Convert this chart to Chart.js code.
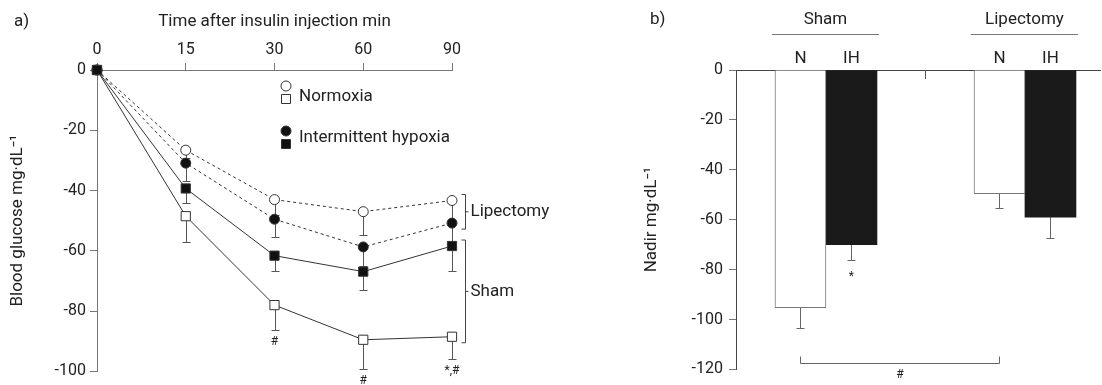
<!DOCTYPE html>
<html>
<head>
<meta charset="utf-8">
<script src="https://cdn.jsdelivr.net/npm/chart.js@4"></script>
<style>
  html, body { margin: 0; padding: 0; background: #fff; overflow: hidden; }
  #wrapA { position: absolute; left: 0; top: 0; width: 620px; height: 385px; }
  #wrapB { position: absolute; left: 620px; top: 0; width: 482px; height: 385px; }
</style>
</head>
<body>
<div id="wrapA"><canvas id="chartA"></canvas></div>
<div id="wrapB"><canvas id="chartB"></canvas></div>
<script>
// ---- panel a data ----
const timeLabels = ['0', '15', '30', '60', '90'];
const shamIH = [0, -39.3, -61.6, -66.9, -58.4];
const shamIHErr = [0, 4.7, 5, 6.1, 8.2];
const shamN = [0, -48.5, -78, -89.5, -88.5];
const shamNErr = [0, 8.5, 8.2, 9.8, 7.5];
const lipIH = [0, -30.9, -49.5, -58.7, -50.8];
const lipIHErr = [0, 5.8, 5.9, 6.3, 7.2];
const lipN = [0, -26.6, -43, -47, -43.3];
const lipNErr = [0, 2.5, 5, 7.7, 6.7];
const shamNSig = ['', '', '#', '#', '*,#'];
const yTicksA = [0, -20, -40, -60, -80, -100];

// ---- panel b data ----
const groups = ['Sham', 'Lipectomy'];
const nadirN = [-95.3, -49.6];
const nadirNErr = [8.2, 5.9];
const nadirIH = [-70, -59];
const nadirIHErr = [6.2, 8.3];
const nadirIHSig = ['*', ''];
const yTicksB = [0, -20, -40, -60, -80, -100, -120];

const FONT = 'Roboto, "Liberation Sans", sans-serif';
Chart.defaults.font.family = FONT;
Chart.defaults.font.size = 16;
Chart.defaults.color = '#222';
Chart.defaults.animation = false;

const AXIS = '#777';
const LINE = '#333';
const TEXT = '17px ' + FONT;

function lineSet(label, data, err, dashed, style, filled, radius, order) {
  return {
    label, data, err, order,
    borderColor: LINE, borderWidth: 1, borderDash: dashed ? [3, 3] : [],
    pointStyle: style, pointRadius: radius,
    pointBackgroundColor: filled ? '#111' : '#fff',
    pointBorderColor: LINE, pointBorderWidth: 1,
    tension: 0, fill: false, clip: false
  };
}

const errorBarsA = {
  id: 'errorBarsA',
  beforeDatasetsDraw(chart) {
    const { ctx, scales: { x, y } } = chart;
    ctx.save();
    ctx.strokeStyle = '#555';
    ctx.lineWidth = 1;
    chart.data.datasets.forEach(ds => {
      ds.data.forEach((v, i) => {
        if (!ds.err[i]) return;
        const px = Math.round(x.getPixelForValue(i)) + 0.5;
        const y0 = y.getPixelForValue(v);
        const y1 = Math.round(y.getPixelForValue(v - ds.err[i])) + 0.5;
        ctx.beginPath();
        ctx.moveTo(px, y0); ctx.lineTo(px, y1);
        ctx.moveTo(px - 4, y1); ctx.lineTo(px + 4, y1);
        ctx.stroke();
      });
    });
    ctx.restore();
  }
};

function marker(ctx, kind, cx, cy, filled) {
  ctx.beginPath();
  if (kind === 'circle') ctx.arc(cx, cy, 5, 0, Math.PI * 2);
  else ctx.rect(cx - 4.5, cy - 4.5, 9, 9);
  ctx.fillStyle = filled ? '#111' : '#fff';
  ctx.fill();
  ctx.strokeStyle = LINE;
  ctx.lineWidth = 1;
  ctx.stroke();
}

function bracket(ctx, x, top, bottom) {
  const mid = (top + bottom) / 2;
  ctx.beginPath();
  ctx.moveTo(x - 4, top); ctx.lineTo(x, top); ctx.lineTo(x, bottom); ctx.lineTo(x - 4, bottom);
  ctx.moveTo(x, mid); ctx.lineTo(x + 3, mid);
  ctx.stroke();
}

const extrasA = {
  id: 'extrasA',
  afterDraw(chart) {
    const { ctx, scales: { x, y } } = chart;
    ctx.save();
    ctx.fillStyle = '#222';
    ctx.font = TEXT;
    ctx.textBaseline = 'middle';
    ctx.textAlign = 'left';
    ctx.fillText('a)', 14, 22);

    // legend
    marker(ctx, 'circle', 286, 86, false);
    marker(ctx, 'square', 286, 99, false);
    ctx.fillStyle = '#222';
    ctx.fillText('Normoxia', 299, 97);
    marker(ctx, 'circle', 286, 131, true);
    marker(ctx, 'square', 286, 144, true);
    ctx.fillStyle = '#222';
    ctx.fillText('Intermittent hypoxia', 299, 138);

    // group brackets at last time point
    const last = timeLabels.length - 1;
    const bx = Math.round(x.getPixelForValue(last)) + 13.5;
    ctx.strokeStyle = '#444';
    ctx.lineWidth = 1;
    const lTop = y.getPixelForValue(Math.max(lipN[last], lipIH[last])) - 6;
    const lBot = y.getPixelForValue(Math.min(lipN[last], lipIH[last])) + 6;
    bracket(ctx, bx, lTop, lBot);
    ctx.fillText('Lipectomy', bx + 5, (lTop + lBot) / 2);
    const sTop = y.getPixelForValue(Math.max(shamN[last], shamIH[last])) - 6;
    const sBot = y.getPixelForValue(Math.min(shamN[last], shamIH[last])) + 6;
    bracket(ctx, bx, sTop, sBot);
    ctx.fillText('Sham', bx + 5, (sTop + sBot) / 2);

    // significance marks
    ctx.font = '12px ' + FONT;
    ctx.textAlign = 'center';
    shamNSig.forEach((s, i) => {
      if (!s) return;
      const py = y.getPixelForValue(shamN[i] - shamNErr[i]) + 12;
      ctx.fillText(s, x.getPixelForValue(i), py);
    });
    ctx.restore();
  }
};

new Chart(document.getElementById('chartA'), {
  type: 'line',
  data: {
    labels: timeLabels,
    datasets: [
      lineSet('Sham IH', shamIH, shamIHErr, false, 'rect', true, 6.5, 0),
      lineSet('Sham N', shamN, shamNErr, false, 'rect', false, 6.5, 1),
      lineSet('Lipectomy IH', lipIH, lipIHErr, true, 'circle', true, 5, 2),
      lineSet('Lipectomy N', lipN, lipNErr, true, 'circle', false, 5, 3)
    ]
  },
  options: {
    responsive: true,
    maintainAspectRatio: false,
    layout: { padding: { left: 0, top: 0, right: 168, bottom: 10 } },
    plugins: { legend: { display: false }, tooltip: { enabled: false } },
    scales: {
      x: {
        position: 'top',
        offset: false,
        afterFit(s) { s.height = 70; },
        grid: { drawOnChartArea: false, tickLength: 7, color: AXIS },
        border: { color: AXIS },
        ticks: { padding: 3, maxRotation: 0 },
        title: { display: true, text: 'Time after insulin injection min', font: { size: 17 }, padding: { top: 12, bottom: 0 } }
      },
      y: {
        min: -100, max: 0,
        afterFit(s) { s.width = 97; },
        afterBuildTicks(s) { s.ticks = yTicksA.map(v => ({ value: v })); },
        grid: { drawOnChartArea: false, tickLength: 7, color: AXIS },
        border: { color: AXIS },
        ticks: { padding: 4 },
        title: { display: true, text: 'Blood glucose mg·dL⁻¹', font: { size: 17 }, padding: { top: 8, bottom: 0 } }
      }
    }
  },
  plugins: [errorBarsA, extrasA]
});

// ---- panel b ----
const errorBarsB = {
  id: 'errorBarsB',
  beforeDatasetsDraw(chart) {
    const { ctx, scales: { y } } = chart;
    ctx.save();
    ctx.strokeStyle = '#666';
    ctx.lineWidth = 1;
    chart.data.datasets.forEach((ds, di) => {
      const meta = chart.getDatasetMeta(di);
      ds.data.forEach((pt, i) => {
        const px = Math.round(meta.data[i].x) + 0.5;
        const y0 = y.getPixelForValue(pt.y);
        const y1 = Math.round(y.getPixelForValue(pt.y - ds.err[i])) + 0.5;
        ctx.beginPath();
        ctx.moveTo(px, y0); ctx.lineTo(px, y1);
        ctx.moveTo(px - 4, y1); ctx.lineTo(px + 4, y1);
        ctx.stroke();
      });
    });
    ctx.restore();
  }
};

const extrasB = {
  id: 'extrasB',
  afterDraw(chart) {
    const { ctx, scales: { x, y } } = chart;
    const metaN = chart.getDatasetMeta(0), metaIH = chart.getDatasetMeta(1);
    ctx.save();
    ctx.fillStyle = '#222';
    ctx.font = TEXT;
    ctx.textBaseline = 'middle';
    ctx.textAlign = 'left';
    ctx.fillText('b)', 30, 20);

    ctx.textAlign = 'center';
    ctx.strokeStyle = '#777';
    ctx.lineWidth = 1;
    groups.forEach((g, i) => {
      const nb = metaN.data[i], ib = metaIH.data[i];
      const left = nb.x - nb.width / 2 - 3, right = ib.x + ib.width / 2 + 2;
      ctx.fillText(g, (left + right) / 2, 20);
      ctx.beginPath();
      ctx.moveTo(left, 34.5); ctx.lineTo(right, 34.5);
      ctx.stroke();
      ctx.fillText('N', nb.x, 59);
      ctx.fillText('IH', ib.x, 59);
    });

    // tick between groups
    const tx = Math.round(x.getPixelForValue(0.5)) + 0.5;
    const top = chart.chartArea.top;
    ctx.strokeStyle = '#555';
    ctx.beginPath();
    ctx.moveTo(tx, top); ctx.lineTo(tx, top + 9);
    ctx.stroke();

    // significance
    ctx.font = '12px ' + FONT;
    nadirIHSig.forEach((s, i) => {
      if (!s) return;
      const py = y.getPixelForValue(nadirIH[i] - nadirIHErr[i]) + 17;
      ctx.fillText(s, metaIH.data[i].x, py);
    });

    // sham N vs lipectomy N bracket
    const x0 = Math.round(metaN.data[0].x) + 0.5, x1 = Math.round(metaN.data[1].x) + 0.5;
    const by = Math.round(y.getPixelForValue(Math.min(...nadirN.map((v, i) => v - nadirNErr[i])) - 14)) + 0.5;
    ctx.strokeStyle = '#666';
    ctx.beginPath();
    ctx.moveTo(x0, by - 7); ctx.lineTo(x0, by); ctx.lineTo(x1, by); ctx.lineTo(x1, by - 7);
    ctx.stroke();
    ctx.fillText('#', (x0 + x1) / 2, by + 11);
    ctx.restore();
  }
};

new Chart(document.getElementById('chartB'), {
  type: 'bar',
  data: {
    datasets: [
      {
        label: 'N', err: nadirNErr,
        data: groups.map((g, i) => ({ x: i, y: nadirN[i] })),
        backgroundColor: '#fff', borderColor: '#777', borderWidth: 1,
        borderSkipped: 'start', barThickness: 51
      },
      {
        label: 'IH', err: nadirIHErr,
        data: groups.map((g, i) => ({ x: i, y: nadirIH[i] })),
        backgroundColor: '#1a1a1a', borderColor: '#1a1a1a', borderWidth: 0,
        barThickness: 51
      }
    ]
  },
  options: {
    responsive: true,
    maintainAspectRatio: false,
    layout: { padding: { left: 0, top: 0, right: 2, bottom: 8 } },
    plugins: { legend: { display: false }, tooltip: { enabled: false } },
    scales: {
      x: {
        type: 'linear',
        position: 'top',
        offset: false,
        min: -0.452, max: 1.377,
        afterFit(s) { s.height = 70; },
        grid: { display: true, offset: false, drawOnChartArea: false, drawTicks: false },
        border: { color: '#444' },
        ticks: { display: false }
      },
      y: {
        min: -120, max: 0,
        afterFit(s) { s.width = 116; },
        afterBuildTicks(s) { s.ticks = yTicksB.map(v => ({ value: v })); },
        grid: { drawOnChartArea: false, tickLength: 7, color: AXIS },
        border: { color: '#444' },
        ticks: { padding: 6 },
        title: { display: true, text: 'Nadir mg·dL⁻¹', font: { size: 17 }, padding: { top: 22, bottom: 0 } }
      }
    }
  },
  plugins: [errorBarsB, extrasB]
});
</script>
</body>
</html>
